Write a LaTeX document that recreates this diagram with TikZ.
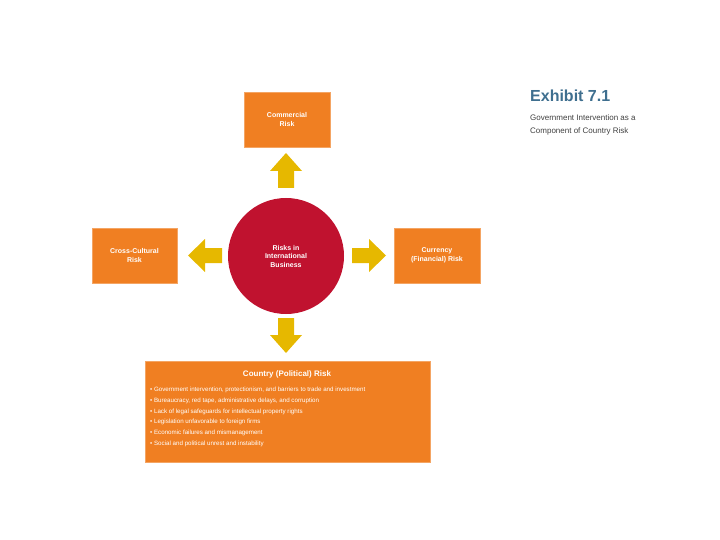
\documentclass[tikz,border=0pt]{standalone}
\usepackage{fontspec}
\setmainfont{Liberation Sans}
\usetikzlibrary{positioning}
\definecolor{org}{HTML}{F07F22}
\definecolor{rd}{HTML}{C0122F}
\definecolor{yl}{HTML}{E6B800}
\definecolor{ttl}{HTML}{3F6F8F}
\begin{document}
\begin{tikzpicture}[x=1pt,y=-1pt,
  box/.style={fill=org,draw=org!70!white,line width=0.8pt,text=white,font=\fontsize{7}{8.5}\selectfont\bfseries,align=center,inner sep=0pt},
  arr/.style={fill=yl,draw=none}]
\useasboundingbox (0,0) rectangle (720,540);
\node[box,minimum width=86pt,minimum height=55pt] (com) at (287,119.5) {Commercial\\Risk};
\node[box,minimum width=85pt,minimum height=55pt] (cc) at (134.5,255.5) {Cross-Cultural\\Risk};
\node[box,minimum width=86pt,minimum height=55pt] (cur) at (437,255.5) {Currency\\(Financial) Risk};
\node[circle,fill=rd,minimum size=116pt,text=white,font=\fontsize{7}{8.5}\selectfont\bfseries,align=center,inner sep=0pt] (c) at (286,256) {Risks in\\International\\Business};
\node[box,minimum width=285pt,minimum height=101pt] (cty) at (287.5,411.5) {};
\node[text=white,font=\fontsize{8}{9}\selectfont\bfseries,anchor=north] (ctt) at (287,367) {Country (Political) Risk};
\node[text=white,font=\fontsize{6.2}{10.7}\selectfont,align=left,anchor=north west,inner sep=0pt] (lst) at (150,387) {• Government intervention, protectionism, and barriers to trade and investment\\• Bureaucracy, red tape, administrative delays, and corruption\\• Lack of legal safeguards for intellectual property rights\\• Legislation unfavorable to foreign firms\\• Economic failures and mismanagement\\• Social and political unrest and instability};
% arrows
\fill[arr] (278,188) -- (278,171) -- (270,171) -- (286,153) -- (302,171) -- (294,171) -- (294,188) -- cycle;
\fill[arr] (278,318) -- (278,335) -- (270,335) -- (286,353) -- (302,335) -- (294,335) -- (294,318) -- cycle;
\fill[arr] (222,248) -- (205,248) -- (205,239) -- (188,255.5) -- (205,272) -- (205,263) -- (222,263) -- cycle;
\fill[arr] (352,248) -- (369,248) -- (369,239) -- (386,255.5) -- (369,272) -- (369,263) -- (352,263) -- cycle;
\node[anchor=west,text=ttl,font=\fontsize{16}{18}\selectfont\bfseries,inner sep=0pt] (ex) at (530,96) {Exhibit 7.1};
\node[anchor=north west,font=\fontsize{8}{13}\selectfont,text=black!75,align=left,inner sep=0pt] (sub) at (530,115) {Government Intervention as a\\Component of Country Risk};
\end{tikzpicture}
\end{document}
